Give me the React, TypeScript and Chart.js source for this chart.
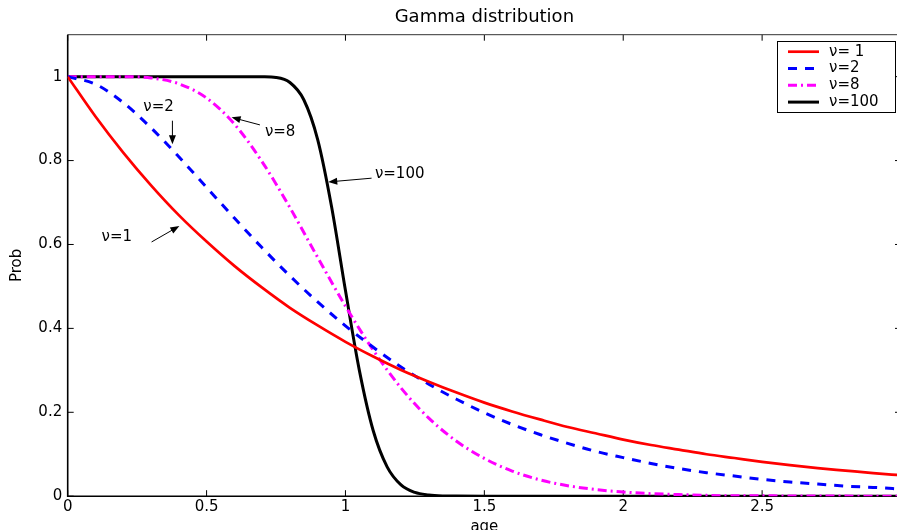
import React, { useEffect, useRef } from 'react';
import { Chart, registerables } from 'chart.js';

Chart.register(...registerables);

const FONT = 'DejaVu Sans';
const TITLE = 'Gamma distribution';
const X_LABEL = 'age';
const Y_LABEL = 'Prob';
const X_TICKS = [0, 0.5, 1, 1.5, 2, 2.5, 3];
const Y_TICKS = [0, 0.2, 0.4, 0.6, 0.8, 1];
const X_MIN = 0;
const X_MAX = 3;
const Y_MIN = 0;
const Y_MAX = 1.1;

const AGE = [
  0, 0.1, 0.2, 0.3, 0.4, 0.5, 0.6, 0.7, 0.8, 0.9, 1.0, 1.1, 1.2, 1.3, 1.4, 1.5,
  1.6, 1.7, 1.8, 1.9, 2.0, 2.1, 2.2, 2.3, 2.4, 2.5, 2.6, 2.7, 2.8, 2.9, 3.0,
];
const PROB_NU1 = [
  1, 0.905, 0.819, 0.741, 0.67, 0.607, 0.549, 0.497, 0.449, 0.407, 0.368, 0.333,
  0.301, 0.273, 0.247, 0.223, 0.202, 0.183, 0.165, 0.15, 0.135, 0.122, 0.111, 0.1,
  0.091, 0.082, 0.074, 0.067, 0.061, 0.055, 0.05,
];
const PROB_NU2 = [
  1, 0.982, 0.938, 0.878, 0.809, 0.736, 0.663, 0.592, 0.525, 0.463, 0.406, 0.355,
  0.308, 0.267, 0.231, 0.199, 0.171, 0.147, 0.126, 0.107, 0.092, 0.078, 0.066,
  0.056, 0.048, 0.04, 0.034, 0.029, 0.024, 0.021, 0.017,
];
const PROB_NU8 = [
  1, 1, 1, 0.997, 0.983, 0.949, 0.887, 0.797, 0.688, 0.569, 0.453, 0.348, 0.258,
  0.186, 0.131, 0.09, 0.06, 0.039, 0.025, 0.016, 0.01, 0.006, 0.004, 0.002, 0.001,
  0.001, 0.0005, 0.0003, 0.0002, 0.0001, 0.0001,
];
const AGE_NU100 = [
  0, 0.5, 0.6, 0.65, 0.7, 0.75, 0.8, 0.85, 0.9, 0.95, 1.0, 1.05, 1.1, 1.15, 1.2,
  1.25, 1.3, 1.35, 1.4, 1.5, 2, 2.5, 3,
];
const PROB_NU100 = [
  1, 1, 1, 1, 0.9997, 0.998, 0.986, 0.945, 0.85, 0.69, 0.49, 0.3, 0.156, 0.07,
  0.027, 0.009, 0.003, 0.0007, 0.0002, 0, 0, 0, 0,
];

const SERIES_LABELS = ['ν= 1', 'ν=2', 'ν=8', 'ν=100'];
const ANNOTATION_LABELS = ['ν=1', 'ν=2', 'ν=8', 'ν=100'];

// annotation layout (data coordinates): text anchor, arrow tail, arrow head
const ANNOTATION_LAYOUT = [
  { tx: 0.122, ty: 0.617, ax: 0.302, ay: 0.606, hx: 0.402, hy: 0.644 },
  { tx: 0.272, ty: 0.927, ax: 0.377, ay: 0.895, hx: 0.377, hy: 0.839 },
  { tx: 0.71, ty: 0.867, ax: 0.692, ay: 0.885, hx: 0.59, hy: 0.903 },
  { tx: 1.106, ty: 0.768, ax: 1.094, ay: 0.758, hx: 0.938, hy: 0.749 },
];

const STYLES = [
  { color: '#ff0000', width: 2.7, dash: [] as number[] },
  { color: '#0000ff', width: 3, dash: [9, 8] },
  { color: '#ff00ff', width: 3, dash: [9, 4, 2, 4] },
  { color: '#000000', width: 3, dash: [] as number[] },
];

const toPoints = (xs: number[], ys: number[]) => xs.map((x, i) => ({ x, y: ys[i] }));

const framePlugin = {
  id: 'frame',
  beforeDatasetsDraw(chart: any) {
    const { ctx, chartArea: a, scales } = chart;
    ctx.save();
    ctx.strokeStyle = '#000';
    ctx.lineWidth = 1;
    ctx.beginPath();
    for (const v of X_TICKS) {
      const px = scales.x.getPixelForValue(v);
      ctx.moveTo(px, a.bottom);
      ctx.lineTo(px, a.bottom - 6);
      ctx.moveTo(px, a.top);
      ctx.lineTo(px, a.top + 6);
    }
    for (const v of Y_TICKS) {
      const py = scales.y.getPixelForValue(v);
      ctx.moveTo(a.left, py);
      ctx.lineTo(a.left + 6, py);
      ctx.moveTo(a.right, py);
      ctx.lineTo(a.right - 6, py);
    }
    ctx.stroke();
    ctx.lineWidth = 1;
    ctx.strokeStyle = '#333';
    ctx.beginPath();
    ctx.moveTo(a.left, a.top);
    ctx.lineTo(a.right, a.top);
    ctx.stroke();
    ctx.lineWidth = 1.6;
    ctx.strokeStyle = '#000';
    ctx.beginPath();
    ctx.moveTo(a.left, a.top);
    ctx.lineTo(a.left, a.bottom);
    ctx.lineTo(a.right, a.bottom);
    ctx.lineTo(a.right, a.top);
    ctx.stroke();
    ctx.restore();
  },
};

const overlayPlugin = {
  id: 'overlay',
  afterDatasetsDraw(chart: any) {
    const { ctx, chartArea: a, scales } = chart;
    ctx.save();
    // annotations
    ctx.font = `15px "${FONT}"`;
    ctx.fillStyle = '#000';
    ctx.strokeStyle = '#000';
    ctx.textBaseline = 'middle';
    ctx.textAlign = 'left';
    ANNOTATION_LAYOUT.forEach((p, i) => {
      const tx = scales.x.getPixelForValue(p.tx);
      const ty = scales.y.getPixelForValue(p.ty);
      ctx.fillText(ANNOTATION_LABELS[i], tx, ty);
      const ax = scales.x.getPixelForValue(p.ax);
      const ay = scales.y.getPixelForValue(p.ay);
      const hx = scales.x.getPixelForValue(p.hx);
      const hy = scales.y.getPixelForValue(p.hy);
      const ang = Math.atan2(hy - ay, hx - ax);
      const L = 9;
      const W = 3.5;
      ctx.lineWidth = 1;
      ctx.beginPath();
      ctx.moveTo(ax, ay);
      ctx.lineTo(hx - Math.cos(ang) * L * 0.8, hy - Math.sin(ang) * L * 0.8);
      ctx.stroke();
      ctx.beginPath();
      ctx.moveTo(hx, hy);
      ctx.lineTo(hx - Math.cos(ang) * L - Math.sin(ang) * W, hy - Math.sin(ang) * L + Math.cos(ang) * W);
      ctx.lineTo(hx - Math.cos(ang) * L + Math.sin(ang) * W, hy - Math.sin(ang) * L - Math.cos(ang) * W);
      ctx.closePath();
      ctx.fill();
    });
    // legend box
    const bw = 118;
    const bh = 71;
    const bx = a.right - 6 - bw;
    const by = a.top + 6.5;
    ctx.fillStyle = '#fff';
    ctx.fillRect(bx, by, bw, bh);
    ctx.lineWidth = 1;
    ctx.strokeStyle = '#000';
    ctx.strokeRect(Math.round(bx) + 0.5, Math.round(by) + 0.5, bw, bh);
    chart.data.datasets.forEach((ds: any, i: number) => {
      const y = by + 10.5 + i * 16.8;
      ctx.save();
      ctx.strokeStyle = ds.borderColor;
      ctx.lineWidth = ds.borderWidth;
      ctx.setLineDash(ds.borderDash || []);
      ctx.beginPath();
      ctx.moveTo(bx + 11, y);
      ctx.lineTo(bx + 42, y);
      ctx.stroke();
      ctx.restore();
      ctx.fillStyle = '#000';
      ctx.font = `15px "${FONT}"`;
      ctx.textBaseline = 'middle';
      ctx.textAlign = 'left';
      ctx.fillText(ds.label, bx + 52, y);
    });
    ctx.restore();
  },
};

export default function App() {
  const ref = useRef<HTMLCanvasElement | null>(null);

  useEffect(() => {
    if (!ref.current) return;
    const series = [
      toPoints(AGE, PROB_NU1),
      toPoints(AGE, PROB_NU2),
      toPoints(AGE, PROB_NU8),
      toPoints(AGE_NU100, PROB_NU100),
    ];
    const chart = new Chart(ref.current, {
      type: 'line',
      data: {
        datasets: series.map((data, i) => ({
          label: SERIES_LABELS[i],
          data,
          borderColor: STYLES[i].color,
          backgroundColor: STYLES[i].color,
          borderWidth: STYLES[i].width,
          borderDash: STYLES[i].dash,
          pointRadius: 0,
          fill: false,
          cubicInterpolationMode: 'monotone' as const,
        })),
      },
      options: {
        animation: false,
        responsive: false,
        events: [],
        layout: { padding: { left: 0, right: 29, top: 0, bottom: 0 } },
        plugins: {
          legend: { display: false },
          tooltip: { enabled: false },
          title: {
            display: true,
            text: TITLE,
            fullSize: false,
            color: '#000',
            font: { family: FONT, size: 18, weight: 'normal' },
            padding: { top: 7, bottom: 6.1 },
          },
        },
        scales: {
          x: {
            type: 'linear',
            min: X_MIN,
            max: X_MAX,
            grid: { display: false, drawTicks: false },
            border: { display: false },
            afterBuildTicks: (s: any) => {
              s.ticks = X_TICKS.map((v) => ({ value: v }));
            },
            afterFit: (s: any) => {
              s.height = 39.8;
            },
            ticks: {
              color: '#000',
              padding: 2,
              maxRotation: 0,
              font: { family: FONT, size: 15 },
              callback: (v: any) => String(v),
            },
            title: {
              display: true,
              text: X_LABEL,
              color: '#000',
              font: { family: FONT, size: 15 },
              padding: { top: 0, bottom: 0 },
            },
          },
          y: {
            type: 'linear',
            min: Y_MIN,
            max: Y_MAX,
            grid: { display: false, drawTicks: false },
            border: { display: false },
            afterBuildTicks: (s: any) => {
              s.ticks = Y_TICKS.map((v) => ({ value: v }));
            },
            afterFit: (s: any) => {
              s.width = 67.7;
            },
            ticks: {
              color: '#000',
              padding: 5.5,
              font: { family: FONT, size: 15 },
              callback: (v: any) => String(v),
            },
            title: {
              display: true,
              text: Y_LABEL,
              color: '#000',
              font: { family: FONT, size: 15 },
              padding: { top: 8, bottom: 0 },
            },
          },
        },
      },
      plugins: [framePlugin, overlayPlugin],
    });
    return () => chart.destroy();
  }, []);

  return (
    <div
      style={{
        position: 'fixed',
        left: 0,
        top: 0,
        width: 897,
        height: 530,
        overflow: 'hidden',
        background: '#fff',
      }}
    >
      <canvas ref={ref} width={930} height={536.5} style={{ display: 'block' }} />
    </div>
  );
}
